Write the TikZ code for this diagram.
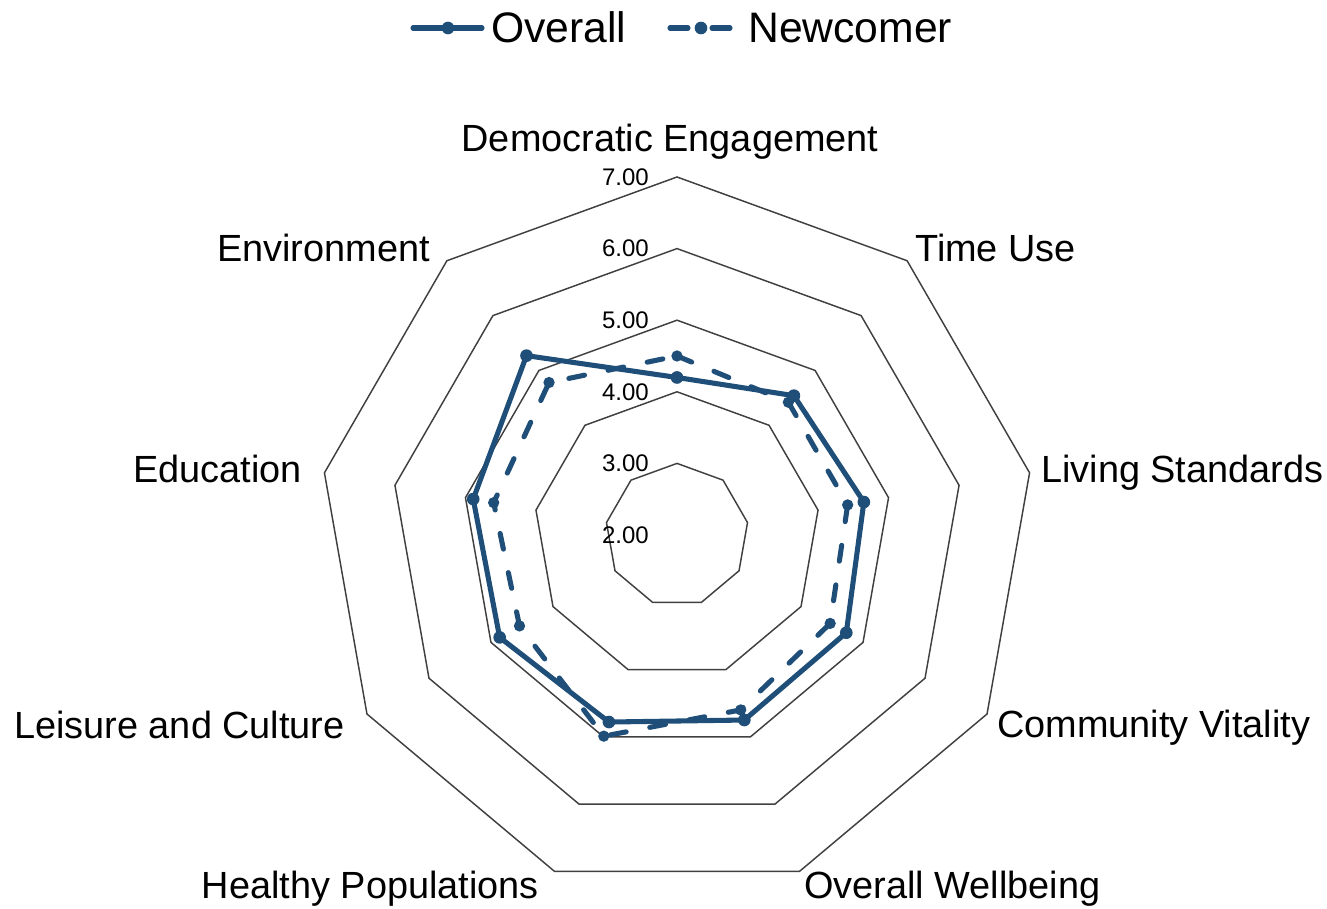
\documentclass[tikz,border=0pt]{standalone}
\usepackage{fontspec}
\setmainfont{Liberation Sans}
\usetikzlibrary{calc}
\definecolor{seriesblue}{RGB}{31,78,121}
\definecolor{ringgrey}{RGB}{64,64,64}
\tikzset{ring/.style={draw=ringgrey, line width=1.1pt},
    overall/.style={draw=seriesblue, line width=3.8pt, line join=round, line cap=round},
    newcomer/.style={overall, dash pattern=on 12pt off 18pt},
    dot/.style={circle, fill=seriesblue, inner sep=0pt, minimum size=9.5pt},
    catlabel/.style={font=\fontsize{28.4}{30}\selectfont, inner sep=0pt},
    axlabel/.style={font=\fontsize{18}{20}\selectfont, inner sep=0pt, anchor=east},
    legtext/.style={font=\fontsize{32}{34}\selectfont, inner sep=0pt, anchor=base west}}

\begin{document}
\begin{tikzpicture}[x=0.75pt, y=0.75pt]
        \useasboundingbox (0,0) rectangle (1327,909);

        \begin{scope}[shift={(677,374)}]
        % rings 3.00 to 7.00
        \foreach \v in {3,...,7} {
            \pgfmathsetmacro{\r}{(\v-2)*71.6}
            \draw[ring] (90:\r) \foreach \a in {50,10,...,-230} { -- (\a:\r) } -- cycle;
        }
        \foreach \v in {2,...,7}
            \node[axlabel] (val\v) at (-28, {(\v-2)*71.6}) {\v.00};

        % data points
        \foreach \s [count=\i] in {4.50,4.42,4.42,4.47,4.60,4.99,4.54,4.60,4.78}
            \coordinate (n\i) at ({90-40*(\i-1)}:{(\s-2)*71.6});
        \foreach \s [count=\i] in {4.20,4.54,4.65,4.73,4.75,4.78,4.86,4.89,5.27}
            \coordinate (o\i) at ({90-40*(\i-1)}:{(\s-2)*71.6});

        \draw[newcomer] (n1) -- (n2) -- (n3) -- (n4) -- (n5) -- (n6) -- (n7) -- (n8) -- (n9) -- cycle;
        \foreach \i in {1,...,9}
            \node[dot, minimum size=8.5pt] (nd\i) at (n\i) {};
        \draw[overall] (o1) -- (o2) -- (o3) -- (o4) -- (o5) -- (o6) -- (o7) -- (o8) -- (o9) -- cycle;
        \foreach \i in {1,...,9}
            \node[dot] (od\i) at (o\i) {};
        \end{scope}

        % category labels
        \node[catlabel, anchor=base] (dem) at (670,757) {Democratic Engagement};
        \node[catlabel, anchor=base west] (time) at (915,647) {Time Use};
        \node[catlabel, anchor=base west] (liv) at (1041,426) {Living Standards};
        \node[catlabel, anchor=base west] (com) at (997,171) {Community Vitality};
        \node[catlabel, anchor=base west] (well) at (804,10) {Overall Wellbeing};
        \node[catlabel, anchor=base east] (health) at (539,10) {Healthy Populations};
        \node[catlabel, anchor=base east] (leis) at (345,170) {Leisure and Culture};
        \node[catlabel, anchor=base east] (edu) at (302,426) {Education};
        \node[catlabel, anchor=base east] (env) at (430,647) {Environment};

        % legend
        \coordinate (la) at (413,881);
        \coordinate (lb) at (482,881);
        \draw[overall] (la) -- (lb);
        \node[dot] (lo) at (448,881) {};
        \node[legtext] (lot) at (491,866) {Overall};
        \coordinate (lc) at (670,881);
        \coordinate (ld) at (730,881);
        \draw[newcomer, dash pattern=on 13.5pt off 18pt] (lc) -- (ld);
        \node[dot] (ln) at (701,881) {};
        \node[legtext] (lnt) at (748,866) {Newcomer};

    \end{tikzpicture}
\end{document}
